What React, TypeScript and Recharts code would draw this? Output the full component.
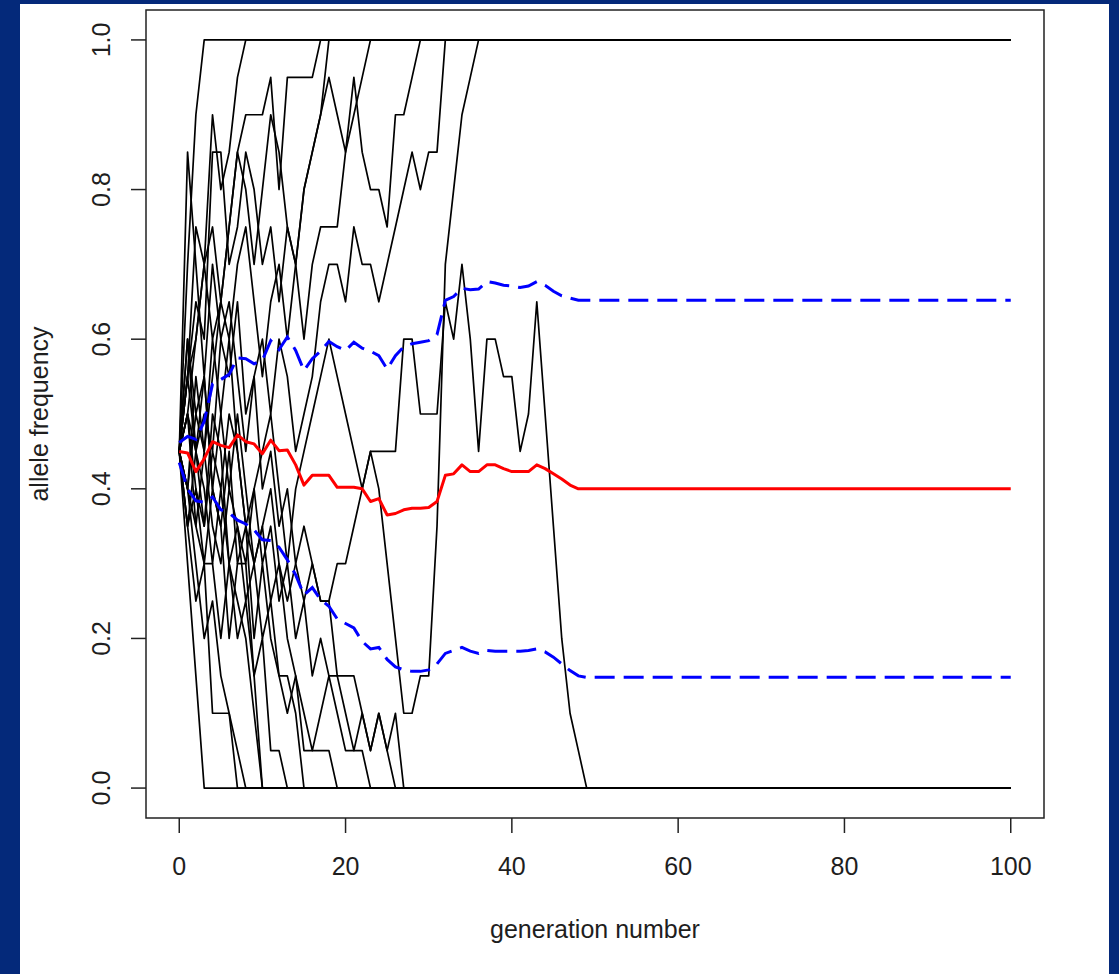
import React from 'react';
import { LineChart, Line, XAxis, YAxis, ReferenceArea } from 'recharts';

// ---------- data ----------
const GENERATIONS = Array.from({ length: 101 }, (_, i) => i);
const X_TICKS = [0, 20, 40, 60, 80, 100];
const Y_TICKS = [0, 0.2, 0.4, 0.6, 0.8, 1.0];

// each replicate: allele frequency per generation until fixation (value then stays fixed)
const REP_01 = [0.45, 0.7, 0.9, 1];
const REP_02 = [0.45, 0.3, 0.15, 0];
const REP_03 = [0.45, 0.55, 0.75, 0.7, 0.9, 0.8, 0.85, 0.95, 1];
const REP_04 = [0.45, 0.35, 0.25, 0.3, 0.1, 0.1, 0.1, 0];
const REP_05 = [0.45, 0.4, 0.3, 0.2, 0.25, 0.15, 0.1, 0.05, 0];
const REP_06 = [0.45, 0.5, 0.35, 0.3, 0.3, 0.2, 0.3, 0.25, 0.2, 0.1, 0];
const REP_07 = [0.45, 0.6, 0.45, 0.4, 0.3, 0.4, 0.3, 0.2, 0.25, 0.15, 0];
const REP_08 = [0.45, 0.35, 0.4, 0.3, 0.4, 0.35, 0.2, 0.3, 0.3, 0.15, 0.2, 0.05, 0.05, 0];
const REP_09 = [0.45, 0.6, 0.5, 0.55, 0.4, 0.35, 0.45, 0.3, 0.35, 0.2, 0.3, 0.2, 0.15, 0.15, 0.1, 0];
const REP_10 = [0.45, 0.4, 0.55, 0.45, 0.6, 0.5, 0.4, 0.5, 0.4, 0.3, 0.35, 0.25, 0.3, 0.2, 0.15, 0.05, 0.05, 0.05, 0.05, 0];
const REP_11 = [0.45, 0.5, 0.4, 0.35, 0.5, 0.45, 0.3, 0.35, 0.25, 0.3, 0.2, 0.25, 0.15, 0.1, 0.15, 0.1, 0.05, 0.1, 0.15, 0.1, 0.05, 0.05, 0.05, 0];
const REP_12 = [0.45, 0.35, 0.45, 0.55, 0.4, 0.5, 0.6, 0.45, 0.35, 0.4, 0.3, 0.35, 0.25, 0.3, 0.2, 0.25, 0.15, 0.2, 0.15, 0.15, 0.1, 0.05, 0.1, 0.05, 0.1, 0.05, 0];
const REP_13 = [0.45, 0.85, 0.7, 0.55, 0.7, 0.6, 0.55, 0.65, 0.5, 0.55, 0.4, 0.45, 0.35, 0.4, 0.3, 0.25, 0.3, 0.25, 0.25, 0.15, 0.15, 0.15, 0.1, 0.05, 0.1, 0.05, 0.1, 0];
const REP_14 = [0.45, 0.5, 0.45, 0.35, 0.45, 0.4, 0.5, 0.45, 0.35, 0.3, 0.35, 0.4, 0.3, 0.25, 0.3, 0.35, 0.3, 0.25, 0.25, 0.3, 0.3, 0.35, 0.4, 0.45, 0.45, 0.45, 0.45, 0.6, 0.6, 0.5, 0.5, 0.5, 0.65, 0.6, 0.7, 0.6, 0.45, 0.6, 0.6, 0.55, 0.55, 0.45, 0.5, 0.65, 0.5, 0.35, 0.2, 0.1, 0.05, 0];
const REP_15 = [0.45, 0.55, 0.6, 0.7, 0.75, 0.65, 0.75, 0.85, 0.9, 0.9, 0.9, 0.95, 0.8, 0.95, 0.95, 0.95, 0.95, 1];
const REP_16 = [0.45, 0.55, 0.65, 0.6, 0.85, 0.85, 0.7, 0.75, 0.85, 0.8, 0.7, 0.75, 0.65, 0.75, 0.7, 0.8, 0.85, 0.9, 1];
const REP_17 = [0.45, 0.5, 0.6, 0.7, 0.6, 0.65, 0.75, 0.85, 0.8, 0.7, 0.8, 0.9, 0.85, 0.75, 0.7, 0.6, 0.7, 0.75, 0.75, 0.75, 0.85, 0.9, 0.95, 1];
const REP_18 = [0.45, 0.4, 0.5, 0.45, 0.55, 0.65, 0.6, 0.7, 0.75, 0.65, 0.55, 0.65, 0.7, 0.6, 0.7, 0.8, 0.85, 0.9, 0.95, 0.9, 0.85, 0.95, 0.85, 0.8, 0.8, 0.75, 0.9, 0.9, 0.95, 1];
const REP_19 = [0.45, 0.55, 0.45, 0.5, 0.45, 0.6, 0.65, 0.55, 0.45, 0.55, 0.6, 0.5, 0.6, 0.55, 0.45, 0.5, 0.55, 0.65, 0.7, 0.7, 0.65, 0.75, 0.7, 0.7, 0.65, 0.7, 0.75, 0.8, 0.85, 0.8, 0.85, 0.85, 1];
const REP_20 = [0.45, 0.4, 0.35, 0.45, 0.35, 0.3, 0.4, 0.35, 0.3, 0.4, 0.45, 0.5, 0.4, 0.3, 0.4, 0.45, 0.5, 0.55, 0.6, 0.55, 0.5, 0.45, 0.4, 0.45, 0.4, 0.3, 0.2, 0.1, 0.1, 0.15, 0.15, 0.35, 0.7, 0.8, 0.9, 0.95, 1];

const REPLICATES = [
  REP_01, REP_02, REP_03, REP_04, REP_05, REP_06, REP_07, REP_08, REP_09, REP_10,
  REP_11, REP_12, REP_13, REP_14, REP_15, REP_16, REP_17, REP_18, REP_19, REP_20,
];

// mean frequency (red) and the dashed band (blue), per generation until they level off
const MEAN_FREQ = [
  0.45, 0.448, 0.423, 0.44, 0.463, 0.458, 0.455, 0.472, 0.463, 0.46,
  0.447, 0.465, 0.451, 0.452, 0.432, 0.405, 0.418, 0.418, 0.418, 0.402,
  0.402, 0.402, 0.4, 0.383, 0.387, 0.365, 0.367, 0.372, 0.374, 0.374,
  0.375, 0.383, 0.418, 0.42, 0.432, 0.423, 0.423, 0.432, 0.432, 0.427,
  0.423, 0.423, 0.423, 0.432, 0.427, 0.42, 0.413, 0.405, 0.4,
];
const UPPER_BAND = [
  0.462, 0.47, 0.466, 0.49, 0.54, 0.546, 0.553, 0.575, 0.574, 0.567,
  0.572, 0.598, 0.586, 0.603, 0.585, 0.558, 0.574, 0.584, 0.597, 0.59,
  0.585, 0.596, 0.588, 0.584, 0.578, 0.56, 0.578, 0.59, 0.594, 0.596,
  0.598, 0.606, 0.652, 0.657, 0.668, 0.666, 0.667, 0.677, 0.675, 0.672,
  0.671, 0.669, 0.671, 0.677, 0.672, 0.664, 0.658, 0.655, 0.652,
];
const LOWER_BAND = [
  0.435, 0.4, 0.384, 0.382, 0.389, 0.372, 0.368, 0.358, 0.353, 0.345,
  0.332, 0.331, 0.322, 0.305, 0.285, 0.258, 0.268, 0.252, 0.243, 0.226,
  0.22, 0.214, 0.196, 0.186, 0.188, 0.172, 0.162, 0.158, 0.156, 0.156,
  0.158, 0.166, 0.18, 0.184, 0.188, 0.183, 0.18, 0.184, 0.183, 0.183,
  0.183, 0.183, 0.184, 0.186, 0.182, 0.175, 0.166, 0.157, 0.15, 0.148,
];

const valueAt = (arr: number[], g: number) => arr[Math.min(g, arr.length - 1)];

const chartData = GENERATIONS.map((g) => {
  const row: Record<string, number> = { g };
  REPLICATES.forEach((rep, i) => {
    row['r' + i] = valueAt(rep, g);
  });
  row.mean = valueAt(MEAN_FREQ, g);
  row.upper = valueAt(UPPER_BAND, g);
  row.lower = valueAt(LOWER_BAND, g);
  return row;
});

// ---------- styling ----------
const NAVY = '#04297a';
const FONT = '"Liberation Sans", Arial, Helvetica, sans-serif';
const TEXT = '#1e1e1e';
const FS = 25;

const XTick = (props: any) => {
  const { x, y, payload } = props;
  return (
    <text x={x} y={y} dy="0.71em" textAnchor="middle" fontSize={FS} fontFamily={FONT} fill={TEXT}>
      {String(payload.value)}
    </text>
  );
};

const YTick = (props: any) => {
  const { x, y, payload } = props;
  return (
    <text
      x={x}
      y={y}
      transform={`rotate(-90, ${x}, ${y})`}
      textAnchor="middle"
      fontSize={FS}
      fontFamily={FONT}
      fill={TEXT}
    >
      {Number(payload.value).toFixed(1)}
    </text>
  );
};

const XTitle = (props: any) => {
  const vb = props.viewBox || { x: 146, y: 818, width: 898, height: 60 };
  return (
    <text x={vb.x + vb.width / 2} y={vb.y + 120} textAnchor="middle" fontSize={FS} fontFamily={FONT} fill={TEXT}>
      generation number
    </text>
  );
};

const YTitle = (props: any) => {
  const vb = props.viewBox || { x: 66, y: 10, width: 80, height: 808 };
  const cx = vb.x - 18;
  const cy = vb.y + vb.height / 2;
  return (
    <text x={cx} y={cy} transform={`rotate(-90, ${cx}, ${cy})`} textAnchor="middle" fontSize={FS} fontFamily={FONT} fill={TEXT}>
      allele frequency
    </text>
  );
};

export default function App() {
  return (
    <div style={{ position: 'absolute', left: 0, top: 0, width: 1119, height: 974, background: NAVY, overflow: 'hidden' }}>
      <div style={{ position: 'absolute', left: 20, top: 4, width: 1089, height: 970, background: '#ffffff' }} />
      <div style={{ position: 'absolute', left: 0, top: 0 }}>
        <LineChart width={1119} height={974} data={chartData} margin={{ top: 10, right: 75, bottom: 96, left: 66 }}>
          <XAxis
            dataKey="g"
            type="number"
            domain={[-4, 104]}
            allowDataOverflow
            ticks={X_TICKS}
            interval={0}
            height={60}
            axisLine={false}
            tickSize={15}
            tickMargin={24}
            tickLine={{ stroke: '#222', strokeWidth: 1.5 }}
            tick={XTick}
            label={{ content: XTitle }}
          />
          <YAxis
            type="number"
            domain={[-0.04, 1.04]}
            allowDataOverflow
            ticks={Y_TICKS}
            interval={0}
            width={80}
            axisLine={false}
            tickSize={15}
            tickMargin={21}
            tickLine={{ stroke: '#222', strokeWidth: 1.5 }}
            tick={YTick}
            label={{ content: YTitle }}
          />
          {REPLICATES.map((_, i) => (
            <Line
              key={'r' + i}
              dataKey={'r' + i}
              type="linear"
              stroke="#000000"
              strokeWidth={1.7}
              strokeLinejoin="round"
              dot={false}
              activeDot={false}
              isAnimationActive={false}
            />
          ))}
          <Line dataKey="mean" type="linear" stroke="#ff0000" strokeWidth={3} strokeLinejoin="round" dot={false} activeDot={false} isAnimationActive={false} />
          <Line dataKey="upper" type="linear" stroke="#0000ff" strokeWidth={3} strokeDasharray="20 9" dot={false} activeDot={false} isAnimationActive={false} />
          <Line dataKey="lower" type="linear" stroke="#0000ff" strokeWidth={3} strokeDasharray="20 9" dot={false} activeDot={false} isAnimationActive={false} />
          <ReferenceArea x1={-4} x2={104} y1={-0.04} y2={1.04} fill="none" stroke="#222" strokeWidth={1.5} ifOverflow="visible" />
        </LineChart>
      </div>
    </div>
  );
}
